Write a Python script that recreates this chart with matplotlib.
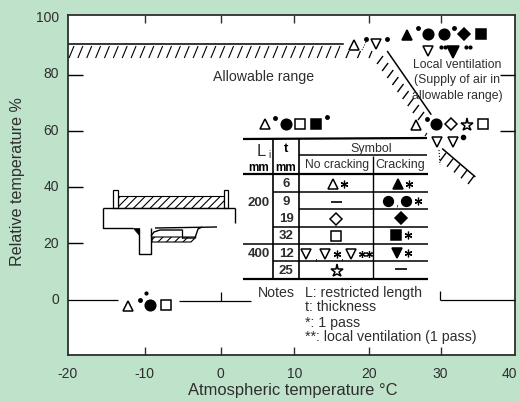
import numpy as np
import matplotlib
matplotlib.use('Agg')
import matplotlib.pyplot as plt
from matplotlib.patches import Rectangle, Polygon

plt.rcParams['font.family'] = ['Liberation Sans', 'DejaVu Sans']
plt.rcParams['hatch.linewidth'] = 0.8

BG = '#bfe2cb'
INK = '#2e2e2e'
W, H = 519, 401

x_ticks = [-20, -10, 0, 10, 20, 30, 40]
x_tick_pos = [-20, -9.7, 0.5, 10.4, 20.4, 30, 39.3]
y_ticks = [0, 20, 40, 60, 80, 100]
limit_x = [-20, 16.9, 22.9, 28.7]
limit_y = [90.8, 90.8, 88, 65.9]
limit2_x = [30.3, 34.6]
limit2_y = [53.5, 43.8]

col_l = ['200', '400']
col_t = ['6', '9', '19', '32', '12', '25']
notes = ['L: restricted length', 't: thickness', '*: 1 pass', '**: local ventilation (1 pass)']
local_vent = ['Local ventilation', '(Supply of air in', 'allowable range)']

fig = plt.figure(figsize=(W / 100, H / 100), dpi=100, facecolor=BG)
ax = fig.add_axes([68 / W, 1 - 355 / H, 447 / W, 340 / H])
ax.set_xlim(-20, 40)
ax.set_ylim(-19.5, 101)
ax.set_xticks(x_tick_pos[1:-1])
ax.set_xticklabels([])
ax.set_yticks([])
for s in ax.spines.values():
    s.set_linewidth(1.3)
    s.set_color(INK)
ax.tick_params(axis='x', direction='in', top=True, length=5.8, width=1, color=INK)

# tick labels by hand, the 100 and 40 sit right on the corners
for v, p in zip(x_ticks, x_tick_pos):
    ax.annotate(str(v), (p, 0), xycoords=('data', 'axes fraction'), xytext=(0, -8.5),
                textcoords='offset points', ha='center', va='top', fontsize=10, color=INK,
                annotation_clip=False)
for v in y_ticks:
    ax.annotate(str(v), (0, v), xycoords=('axes fraction', 'data'), xytext=(-6.5, 0),
                textcoords='offset points', ha='right', va='center', fontsize=10, color=INK,
                annotation_clip=False)
fig.text(293 / W, 1 - 390 / H, 'Atmospheric temperature °C', ha='center', va='center', fontsize=11.9, color=INK)
fig.text(18 / W, 1 - 182 / H, 'Relative temperature %', rotation=90, ha='center', va='center',
         fontsize=11.6, color=INK)

# overlay in reference pixels for the printed drawing
ov = fig.add_axes([0, 0, 1, 1], facecolor='none')
ov.set_xlim(0, W)
ov.set_ylim(H, 0)
ov.axis('off')


def line(xs, ys, lw=1.0, **kw):
    ov.plot(xs, ys, color='black', lw=lw, solid_capstyle='butt', **kw)


# short ticks on left / right and broken 0 line
for yy in [75, 131, 187, 243]:
    line([68, 83], [yy, yy], 1.0)
for yy in [75, 131]:
    line([500, 515], [yy, yy], 1.0)
line([68, 118], [300, 300], .9)
line([179, 251], [301, 301], .9)
line([221, 221], [292, 301], .9)
line([440, 440], [291, 300], .9)
line([440, 515], [300, 300], .9)

# limit lines
ax.plot(limit_x[:2], limit_y[:2], color='black', lw=1.1)
ax.plot(limit_x[2:], limit_y[2:], color='black', lw=1.1)
ax.plot(limit2_x, limit2_y, color='black', lw=1.1)


def hatch(x0, y0, x1, y1, n, dx, dy, lw=0.9):
    for t in np.linspace(0, 1, n):
        px = x0 + (x1 - x0) * t
        py = y0 + (y1 - y0) * t
        line([px, px + dx], [py, py + dy], lw)


hatch(74, 46, 340, 46, 31, -5, 12, .8)
hatch(349, 51, 372, 51, 3, -3, 7)
hatch(383, 56, 424, 112, 9, -6, 8, 1.0)
hatch(446, 153, 474, 176, 5, -6, 8, 1.0)

# dotted bits beside the symbols
line([362, 366], [50, 42], .7, ls=':')
line([425, 427], [136, 133], .8)
line([439, 440], [150, 165], .8, ls=':')


def mark(x, y, m, filled=False, ms=7.6):
    ov.plot([x], [y], marker=m, ms=ms, mfc='black' if filled else 'white', mec='black',
            mew=1.1, ls='none', zorder=5)


def dot(x, y, s=2.5):
    ov.plot([x], [y], marker='o', ms=s, color='black', ls='none', zorder=5)


def star(x, y, ms=5.5):
    ov.plot([x], [y], marker=(6, 2, 0), ms=ms, mew=.9, color='black', ls='none', zorder=5)


# symbol groups on the plot
mark(354, 45, '^'); dot(366, 39); mark(376, 44, 'v'); dot(387, 39)
mark(407, 35, '^', True); dot(418, 28); mark(428, 34, 'o', True); mark(444, 34, 'o', True); dot(454, 28)
mark(464, 34, 'D', True, 6); mark(481, 34, 's', True, 6.5)
mark(428, 51, 'v'); dot(441, 47, 2); dot(445, 47, 2); mark(453, 52, 'v', True, 8.5); dot(466, 47, 2); dot(470, 47, 2)
mark(265, 124, '^'); dot(275, 118); mark(286, 124, 'o', True); mark(300, 124, 's', False, 7)
mark(316, 124, 's', True, 7); dot(327, 117)
mark(416, 125, '^'); dot(427, 119); mark(436, 124, 'o', True); mark(451, 124, 'D', False, 6.5)
mark(467, 125, '*', False, 9.5); mark(483, 124, 's', False, 7)
mark(437, 142, 'v'); mark(453, 142, 'v'); dot(463, 137, 3)
mark(128, 306, '^'); dot(140, 300); dot(146, 293, 2); mark(150, 305, 'o', True); mark(166, 305, 's', False, 7.5)

ov.text(263.5, 77, 'Allowable range', fontsize=10.2, ha='center', va='center', color=INK)
for t, yy in zip(local_vent, [65, 80, 96]):
    ov.text(457, yy, t, fontsize=8.8, ha='center', va='center', color=INK, zorder=6)

# table
line([243, 427], [139, 138], 1.6)
line([299, 427], [155, 155], 1.1)
line([243, 428], [174, 174], 1.6)
line([273, 428], [192, 192], 1.1)
line([299, 428], [209, 209], 1.1)
line([273, 428], [227, 227], 1.1)
line([243, 428], [244, 244], 1.1)
line([273, 428], [261, 261], 1.1)
line([243, 428], [279, 279], 1.6)
line([273, 273], [139, 279], 1.2)
line([299, 299], [139, 279], 1.2)
line([373, 373], [156, 279], 1.0)

ov.text(261, 152, 'L', fontsize=12, ha='center', va='center', color=INK)
ov.text(269, 155, 'i', fontsize=7, ha='center', va='center', color=INK)
ov.text(286, 149, 't', fontsize=9.5, ha='center', va='center', weight='bold')
ov.text(259, 168, 'mm', fontsize=8.5, ha='center', va='center', weight='bold')
ov.text(286, 168, 'mm', fontsize=8.5, ha='center', va='center', weight='bold')
ov.text(371, 149, 'Symbol', fontsize=8.9, ha='center', va='center', color=INK)
ov.text(337, 165, 'No cracking', fontsize=8.7, ha='center', va='center', color=INK)
ov.text(400, 165, 'Cracking', fontsize=9, ha='center', va='center', color=INK)
for t, yy in zip(col_t, [184, 202, 219, 236, 254, 271]):
    ov.text(286, yy, t, fontsize=9.5, ha='center', va='center', weight='bold', color=INK)
for t, yy in zip(col_l, [203, 254]):
    ov.text(258.5, yy, t, fontsize=9.5, ha='center', va='center', weight='bold', color=INK)

mark(333, 184, '^', False, 7.2); star(344, 184)
mark(398, 184, '^', True, 7.2); star(409, 184)
line([331, 342], [202, 202], 1.2)
mark(388, 201, 'o', True, 7); mark(406, 201, 'o', True, 7); star(418, 201)
ov.text(397, 204, ',', fontsize=8, ha='center', va='center')
mark(336, 219, 'D', False, 6.2); mark(401, 218, 'D', True, 6)
mark(336, 236, 's', False, 7); mark(396, 235, 's', True, 7); star(408, 235)
mark(306, 254, 'v', False, 7.2); ov.text(316, 257, ',', fontsize=8, ha='center', va='center')
mark(325, 254, 'v', False, 7.2); star(337, 254); ov.text(342, 257, ',', fontsize=8, ha='center', va='center')
mark(351, 254, 'v', False, 7.2); star(362, 254, 5); star(369, 254, 5)
mark(397, 253, 'v', True, 7.2); star(408, 253)
mark(337, 271, '*', False, 9.5)
line([395, 407], [269, 269], 1.2)

# notes
ov.text(258, 293, 'Notes', fontsize=10.2, ha='left', va='center', color=INK)
for t, yy in zip(notes, [293, 307, 323, 337]):
    ov.text(305, yy, t, fontsize=10.2, ha='left', va='center', color=INK)

# joint sketch
ov.add_patch(Rectangle((118, 196), 106, 12, fc='white', ec='black', lw=.8, hatch='////'))
ov.add_patch(Rectangle((113, 190), 5, 18, fc='white', ec='black', lw=.9))
ov.add_patch(Rectangle((224, 190), 4, 18, fc='white', ec='black', lw=.9))
line([103, 235], [208, 208], 1.0)
line([103, 103, 133], [208, 228, 228], 1.0)
line([235, 235], [208, 223], 1.0)
line([155, 217], [228, 227], 1.0)
line([139, 139, 151, 151], [228, 254, 254, 228], 1.0)
ov.add_patch(Polygon([(133, 228), (139, 228), (139, 235)], fc='black', ec='black', lw=.5))
ov.add_patch(Polygon([(152, 237), (196, 237), (191, 242), (152, 242)], fc='white', ec='black', lw=.8, hatch='////'))
line([151, 154, 160, 182], [236, 232, 230, 230], 1.0)
line([182, 182], [229, 238], .9)
line([182, 195, 198, 202], [238, 238, 229, 227], 1.0)

fig.savefig('out.png', dpi=100, facecolor=BG)
